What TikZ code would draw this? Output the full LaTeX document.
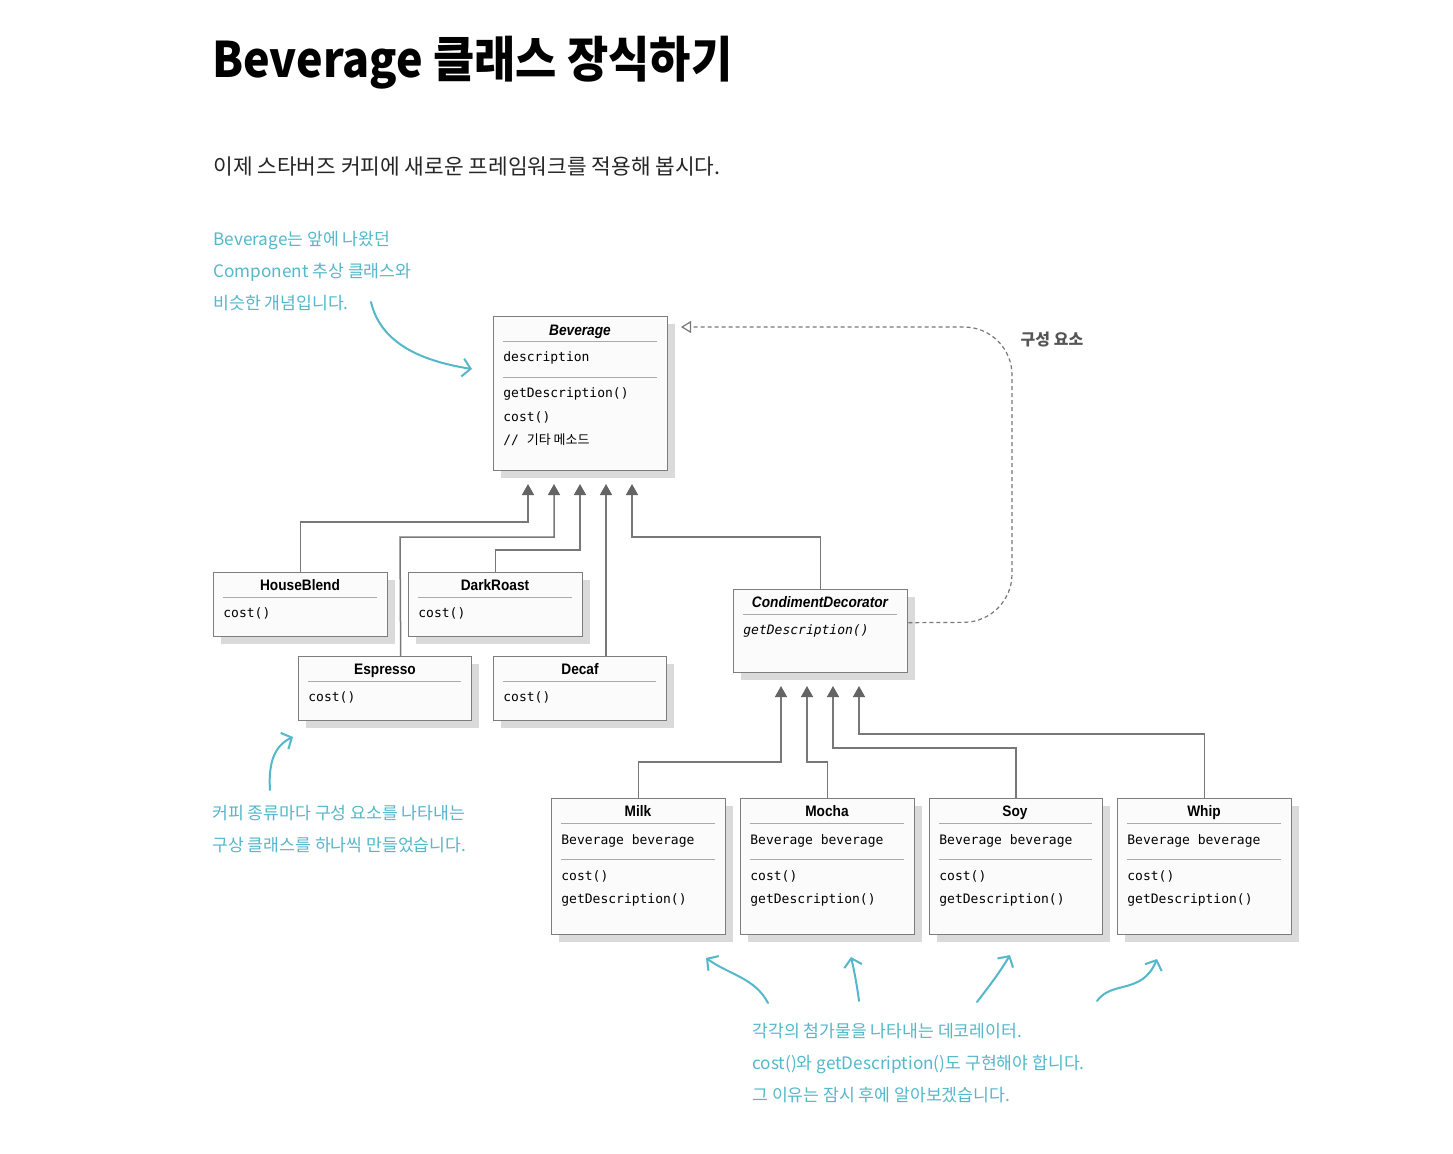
\documentclass[tikz,border=0pt]{standalone}
\usepackage{fontspec}
\usepackage{xcolor}
\setmainfont{Liberation Sans}
\setmonofont{DejaVu Sans Mono}
\newfontfamily\kr{Noto Sans CJK KR}
\newfontfamily\krtitle{Noto Sans CJK KR}[FakeStretch=0.915]
\newfontfamily\boxfont{Liberation Sans}[FakeStretch=0.9]
\usetikzlibrary{arrows.meta,shadows}

\definecolor{handblue}{RGB}{84,184,202}
\definecolor{boxline}{RGB}{125,125,125}
\definecolor{boxfill}{RGB}{251,251,251}
\definecolor{shadowgray}{RGB}{218,218,218}
\definecolor{sepgray}{RGB}{170,170,170}
\definecolor{linegray}{RGB}{120,120,120}
\definecolor{headgray}{RGB}{100,100,100}
\definecolor{labelgray}{RGB}{85,85,85}

\begin{document}
\begin{tikzpicture}[x=0.5pt,y=-0.5pt,
  box/.style={draw=boxline,line width=0.7pt,fill=boxfill,inner sep=0pt,anchor=north west,
    copy shadow={shadow xshift=3.5pt,shadow yshift=-3.5pt,draw=none,fill=shadowgray}},
  ctitle/.style={font=\boxfont\bfseries\fontsize{7.6}{9}\selectfont,inner sep=0pt,anchor=base},
  ititle/.style={font=\boxfont\bfseries\itshape\fontsize{7.6}{9}\selectfont,inner sep=0pt,anchor=base},
  member/.style={font=\ttfamily\fontsize{6.5}{8}\selectfont,anchor=west,inner sep=0pt,
    text height=5pt,text depth=1.5pt},
  sep/.style={draw=sepgray,line width=0.5pt},
  inh/.style={draw=linegray,line width=0.75pt,-{Triangle[length=5.5pt,width=6pt,color=headgray]}},
  compline/.style={draw=linegray,line width=0.6pt,dash pattern=on 2pt off 1.5pt,rounded corners=24pt,
    -{Triangle[open,length=5pt,width=6pt]}},
  handtxt/.style={font=\kr\fontsize{8.6}{16}\selectfont,text=handblue,align=left,anchor=west,inner sep=0pt},
  hand/.style={draw=handblue,line width=1pt,line cap=round,-{Straight Barb[length=4pt,width=9pt]}}]

\fill[white] (0,0) rectangle (1453,1153);
\useasboundingbox (0,0) rectangle (1453,1153);

% heading
\node[anchor=base west,inner sep=0pt,font=\krtitle\bfseries\fontsize{24.5}{28}\selectfont] (head) at (212,77) {Beverage 클래스 장식하기};
\node[anchor=base west,inner sep=0pt,font=\kr\fontsize{10.7}{13}\selectfont,text=black!85] (intro) at (213,174) {이제 스타버즈 커피에 새로운 프레임워크를 적용해 봅시다.};

% Beverage
\node[box,minimum width=87pt,minimum height=77pt] (bev) at (493,316) {};
\node[ititle] (bevT) at (580,335) {Beverage};
\draw[sep] (503,341) -- (657,341);
\node[member] (bevA) at (503,358) {description};
\draw[sep] (503,377) -- (657,377);
\node[member] (bevM1) at (503,394) {getDescription()};
\node[member] (bevM2) at (503,418) {cost()};
\node[member] (bevM3) at (503,441) {//~{\kr 기타 메소드}};

% concrete beverages
\node[box,minimum width=87pt,minimum height=32pt] (house) at (213,572) {};
\node[ctitle] (houseT) at (300,590) {HouseBlend};
\draw[sep] (223,597) -- (377,597);
\node[member] (houseM) at (223,614) {cost()};

\node[box,minimum width=87pt,minimum height=32pt] (dark) at (408,572) {};
\node[ctitle] (darkT) at (495,590) {DarkRoast};
\draw[sep] (418,597) -- (572,597);
\node[member] (darkM) at (418,614) {cost()};

\node[box,minimum width=86.5pt,minimum height=32pt] (esp) at (298,656) {};
\node[ctitle] (espT) at (385,674) {Espresso};
\draw[sep] (308,681) -- (461,681);
\node[member] (espM) at (308,698) {cost()};

\node[box,minimum width=86.5pt,minimum height=32pt] (decaf) at (493,656) {};
\node[ctitle] (decafT) at (580,674) {Decaf};
\draw[sep] (503,681) -- (656,681);
\node[member] (decafM) at (503,698) {cost()};

% decorator
\node[box,minimum width=87pt,minimum height=41.5pt] (cond) at (733,589) {};
\node[ititle] (condT) at (820,607) {CondimentDecorator};
\draw[sep] (743,614) -- (897,614);
\node[member,font=\ttfamily\itshape\fontsize{6.5}{8}\selectfont] (condM) at (743,631) {getDescription()};

% condiments
\node[box,minimum width=87pt,minimum height=68pt] (milk) at (551,798) {};
\node[ctitle] (milkT) at (638,816) {Milk};
\draw[sep] (561,823) -- (715,823);
\node[member] (milkA) at (561,841) {Beverage beverage};
\draw[sep] (561,859) -- (715,859);
\node[member] (milkM1) at (561,877) {cost()};
\node[member] (milkM2) at (561,900) {getDescription()};

\node[box,minimum width=87pt,minimum height=68pt] (mocha) at (740,798) {};
\node[ctitle] (mochaT) at (827,816) {Mocha};
\draw[sep] (750,823) -- (904,823);
\node[member] (mochaA) at (750,841) {Beverage beverage};
\draw[sep] (750,859) -- (904,859);
\node[member] (mochaM1) at (750,877) {cost()};
\node[member] (mochaM2) at (750,900) {getDescription()};

\node[box,minimum width=86.5pt,minimum height=68pt] (soy) at (929,798) {};
\node[ctitle] (soyT) at (1015,816) {Soy};
\draw[sep] (939,823) -- (1092,823);
\node[member] (soyA) at (939,841) {Beverage beverage};
\draw[sep] (939,859) -- (1092,859);
\node[member] (soyM1) at (939,877) {cost()};
\node[member] (soyM2) at (939,900) {getDescription()};

\node[box,minimum width=87pt,minimum height=68pt] (whip) at (1117,798) {};
\node[ctitle] (whipT) at (1204,816) {Whip};
\draw[sep] (1127,823) -- (1281,823);
\node[member] (whipA) at (1127,841) {Beverage beverage};
\draw[sep] (1127,859) -- (1281,859);
\node[member] (whipM1) at (1127,877) {cost()};
\node[member] (whipM2) at (1127,900) {getDescription()};

% inheritance arrows
\coordinate (bt1) at (528,484);
\coordinate (bt2) at (554,484);
\coordinate (bt3) at (580,484);
\coordinate (bt4) at (606,484);
\coordinate (bt5) at (632,484);
\draw[inh] (house.north) -- ++(0,-50) -| (bt1);
\draw[inh] ([xshift=7.75pt]esp.north) -- (400,537) -| (bt2);
\draw[inh] (dark.north) -- ++(0,-22) -| (bt3);
\draw[inh] (bt4 |- decaf.north) -- (bt4);
\draw[inh] (cond.north) -- ++(0,-52) -| (bt5);

\coordinate (ct1) at (781,686);
\coordinate (ct2) at (807,686);
\coordinate (ct3) at (833,686);
\coordinate (ct4) at (859,686);
\draw[inh] (milk.north) -- ++(0,-36) -| (ct1);
\draw[inh] (mocha.north) -- ++(0,-36) -| (ct2);
\draw[inh] (soy.north) -- ++(0,-50) -| (ct3);
\draw[inh] (whip.north) -- ++(0,-64) -| (ct4);

% component link
\coordinate (comp) at (681,327);
\draw[compline] ([yshift=4.25pt]cond.east) -- (1012,622) -- (1012,327) -- (comp);
\node[font=\kr\bfseries\fontsize{8}{10}\selectfont,text=labelgray,inner sep=0pt] (compL) at (1052,340) {구성 요소};

% notes
\node[handtxt] (note1) at (213,271) {Beverage는 앞에 나왔던\\Component 추상 클래스와\\비슷한 개념입니다.};
\node[handtxt] (note2) at (212,829) {커피 종류마다 구성 요소를 나타내는\\구상 클래스를 하나씩 만들었습니다.};
\node[handtxt] (note3) at (752,1063) {각각의 첨가물을 나타내는 데코레이터.\\cost()와 getDescription()도 구현해야 합니다.\\그 이유는 잠시 후에 알아보겠습니다.};

\coordinate (h1s) at (371,302);
\coordinate (h1e) at (472,369);
\coordinate (h2s) at (270,790);
\coordinate (h2e) at (293,737);
\coordinate (h3s) at (768,1003);
\coordinate (h3e) at (706,958);
\coordinate (h4s) at (859,1001);
\coordinate (h4e) at (851,957);
\coordinate (h5s) at (977,1002);
\coordinate (h5e) at (1010,955);
\coordinate (h6s) at (1097,1001);
\coordinate (h6e) at (1157,959);
\draw[hand] (h1s) .. controls (380,340) and (415,360) .. (h1e);
\draw[hand] (h2s) .. controls (268,760) and (276,745) .. (h2e);
\draw[hand] (h3s) .. controls (755,978) and (730,975) .. (h3e);
\draw[hand] (h4s) .. controls (857,985) and (854,970) .. (h4e);
\draw[hand] (h5s) .. controls (990,985) and (1000,972) .. (h5e);
\draw[hand] (h6s) .. controls (1112,980) and (1142,995) .. (h6e);
\end{tikzpicture}
\end{document}
